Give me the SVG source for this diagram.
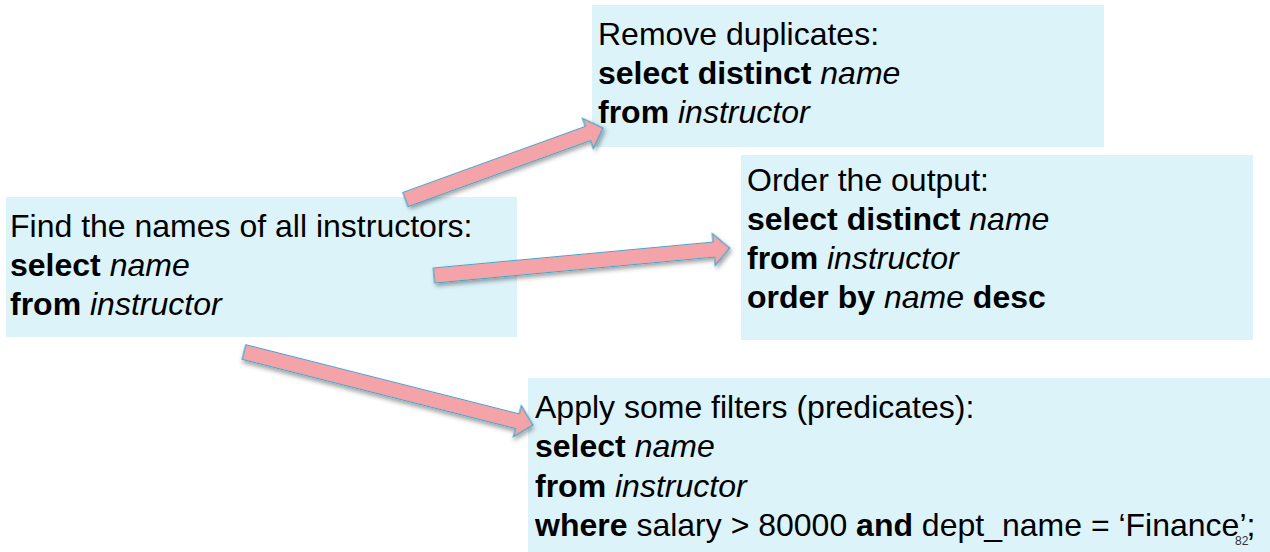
<svg xmlns="http://www.w3.org/2000/svg" width="1270" height="552" viewBox="0 0 1270 552">
  <style>
    .box { fill: #DCF3F9; }
    .t { font-family: "Liberation Sans", Arial, Helvetica, sans-serif; font-size: 32px; fill: #000; }
    .b { font-weight: bold; }
    .i { font-style: italic; }
    .pg { font-family: "Liberation Sans", Arial, sans-serif; font-size: 12px; fill: #333; }
    .arrow { fill: #F4A3A8; stroke: #3AA6C9; stroke-width: 1.2; stroke-linejoin: miter; filter: url(#shadow); }
  </style>
  <defs>
    <filter id="shadow" x="-20%" y="-50%" width="140%" height="200%">
      <feDropShadow dx="1.5" dy="3" stdDeviation="2" flood-color="#000" flood-opacity="0.35"/>
    </filter>
  </defs>

  <rect width="1270" height="552" fill="#fff"/>

  <g id="node-find">
    <rect class="box" x="6" y="197" width="511" height="140"/>
    <text class="t" x="10" y="237">Find the names of all instructors:</text>
    <text class="t" x="10" y="276"><tspan class="b">select</tspan> <tspan class="i">name</tspan></text>
    <text class="t" x="10" y="315"><tspan class="b">from</tspan> <tspan class="i">instructor</tspan></text>
  </g>

  <g id="node-distinct">
    <rect class="box" x="592" y="5" width="512" height="142"/>
    <text class="t" x="598" y="45">Remove duplicates:</text>
    <text class="t" x="598" y="84"><tspan class="b">select distinct</tspan> <tspan class="i">name</tspan></text>
    <text class="t" x="598" y="123"><tspan class="b">from</tspan> <tspan class="i">instructor</tspan></text>
  </g>

  <g id="node-order">
    <rect class="box" x="741" y="155" width="512" height="185"/>
    <text class="t" x="747" y="191">Order the output:</text>
    <text class="t" x="747" y="230"><tspan class="b">select distinct</tspan> <tspan class="i">name</tspan></text>
    <text class="t" x="747" y="269"><tspan class="b">from</tspan> <tspan class="i">instructor</tspan></text>
    <text class="t" x="747" y="308"><tspan class="b">order by</tspan> <tspan class="i">name</tspan> <tspan class="b">desc</tspan></text>
  </g>

  <g id="node-filter">
    <rect class="box" x="528" y="378" width="742" height="174"/>
    <text class="t" x="535" y="418">Apply some filters (predicates):</text>
    <text class="t" x="535" y="457"><tspan class="b">select</tspan> <tspan class="i">name</tspan></text>
    <text class="t" x="535" y="497"><tspan class="b">from</tspan> <tspan class="i">instructor</tspan></text>
    <text class="t" x="535" y="536"><tspan class="b">where</tspan> salary &gt; 80000 <tspan class="b">and</tspan> dept_name = ‘Finance’;</text>
    <text class="pg" x="1235" y="545">82</text>
  </g>

  <g id="connectors">
    <!-- block arrows, drawn along +x then rotated into place -->
    <polygon class="arrow" transform="translate(405.5,199.5) rotate(-19.9)"
             points="0,-7.5 194,-7.5 194,-16 210,0 194,16 194,7.5 0,7.5"/>
    <polygon class="arrow" transform="translate(434,275.5) rotate(-5.3)"
             points="0,-7.5 281,-7.5 281,-16 297,0 281,16 281,7.5 0,7.5"/>
    <polygon class="arrow" transform="translate(244,352) rotate(14.2)"
             points="0,-7.5 282,-7.5 282,-16 298,0 282,16 282,7.5 0,7.5"/>
  </g>
</svg>
